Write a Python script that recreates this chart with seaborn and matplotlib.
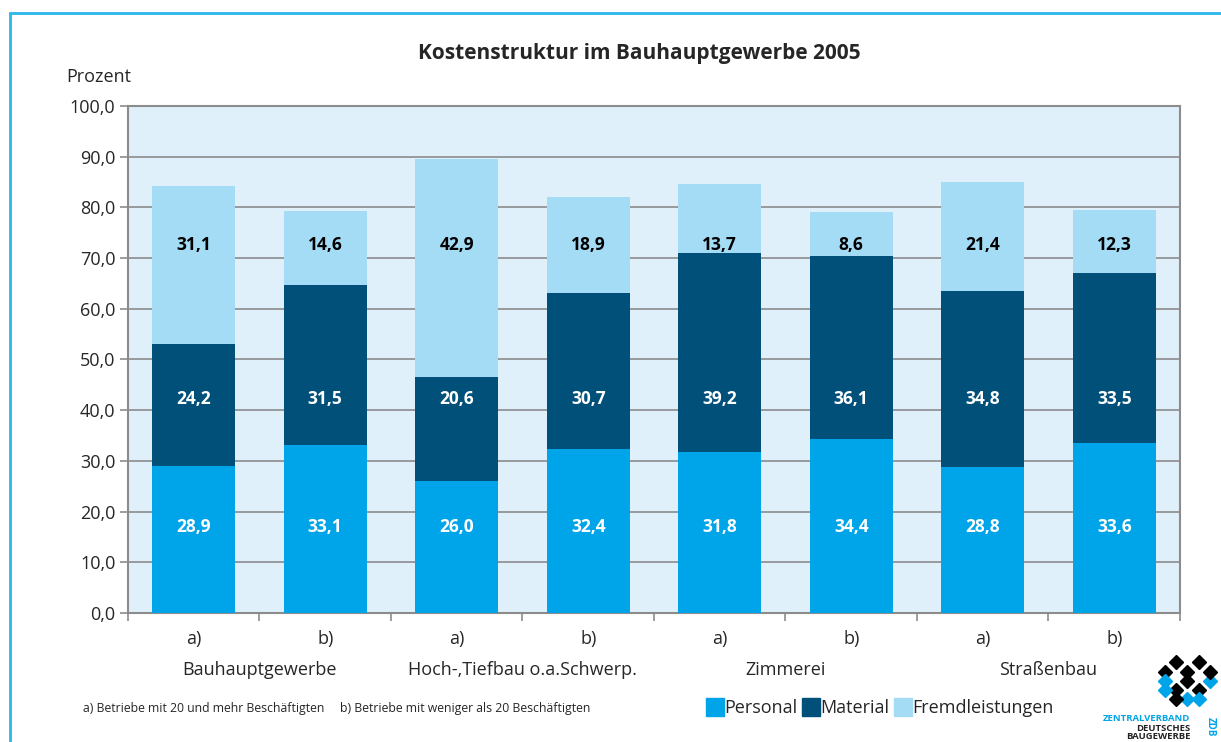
import numpy as np
import pandas as pd
import seaborn as sns
import matplotlib.pyplot as plt
from matplotlib.patches import Rectangle
from matplotlib.lines import Line2D

sns.set_theme(style="white")
plt.rcParams["font.family"] = ["Open Sans", "DejaVu Sans"]

# data
groups = ["Bauhauptgewerbe", "Hoch-,Tiefbau o.a.Schwerp.", "Zimmerei", "Straßenbau"]
sizes = ["a)", "b)"]
personal = [28.9, 33.1, 26.0, 32.4, 31.8, 34.4, 28.8, 33.6]
material = [24.2, 31.5, 20.6, 30.7, 39.2, 36.1, 34.8, 33.5]
fremd = [31.1, 14.6, 42.9, 18.9, 13.7, 8.6, 21.4, 12.3]
series_names = ["Personal", "Material", "Fremdleistungen"]
colors = ["#00A4E8", "#00507A", "#A4DBF5"]
label_colors = ["white", "white", "black"]
# the source puts every label of a series at one common height
label_levels = [17.0, 42.2, 72.5]

slots = [f"{s} {g}" for g in groups for s in sizes]
df = pd.DataFrame({"slot": slots, "Personal": personal,
                   "Material": material, "Fremdleistungen": fremd})
df["top_material"] = df["Personal"] + df["Material"]
df["top_fremd"] = df["top_material"] + df["Fremdleistungen"]

fig = plt.figure(figsize=(12.21, 7.42), dpi=100)
ax = fig.add_axes([0.1048, 0.1739, 0.8616, 0.6833])
ax.set_facecolor("#DFF0FA")

# stacked bars drawn as overlaid cumulative totals
for col, c in [("top_fremd", colors[2]), ("top_material", colors[1]), ("Personal", colors[0])]:
    sns.barplot(data=df, x="slot", y=col, order=slots, color=c, width=0.63,
                saturation=1, linewidth=0, edgecolor="none", ax=ax, zorder=3)

# value labels
for i, row in df.iterrows():
    for name, lvl, tc in zip(series_names, label_levels, label_colors):
        ax.text(i, lvl, f"{row[name]:.1f}".replace(".", ","), ha="center", va="center",
                color=tc, fontsize=12.5, fontweight="bold", zorder=5)

ax.set_xlim(-0.5, len(slots) - 0.5)
ax.set_ylim(0, 100)
yt = np.arange(0, 101, 10)
ax.set_yticks(yt)
ax.set_yticklabels([f"{v:.1f}".replace(".", ",") for v in yt], fontsize=13)
ax.yaxis.grid(True, color="#8C8C8C", linewidth=1.2, zorder=0)
ax.set_axisbelow(True)
ax.tick_params(axis="y", left=True, length=6, width=1.2, color="#8C8C8C", pad=3)
ax.set_xlabel("")
ax.set_ylabel("")

ax.set_xticks(np.arange(-0.5, len(slots), 1), minor=True)
ax.set_xticks(range(len(slots)))
ax.set_xticklabels([s for g in groups for s in sizes], fontsize=13)
ax.tick_params(axis="x", which="major", length=0, pad=12)
ax.tick_params(axis="x", which="minor", bottom=True, length=6, width=1.2, color="#8C8C8C")
for sp in ax.spines.values():
    sp.set_color("#8C8C8C")
    sp.set_linewidth(1.5)

for k, g in enumerate(groups):
    ax.text(2 * k + 0.5, -0.113, g, transform=ax.get_xaxis_transform(),
            ha="center", va="center", fontsize=13)

fig.text(0.524, 0.928, "Kostenstruktur im Bauhauptgewerbe 2005", ha="center", va="center",
         fontsize=15, fontweight="bold")
fig.text(0.054, 0.896, "Prozent", ha="left", va="center", fontsize=13)
fig.text(0.068, 0.045, "a) Betriebe mit 20 und mehr Beschäftigten     b) Betriebe mit weniger als 20 Beschäftigten",
         ha="left", va="center", fontsize=8.8)

handles = [Line2D([], [], marker="s", linestyle="none", markersize=13, color=c) for c in colors]
fig.legend(handles, series_names, loc="center left", bbox_to_anchor=(0.566, 0.046), ncol=3,
           frameon=False, fontsize=13, handletextpad=0.05, columnspacing=0.3, handlelength=0.9)

# frame around the figure
fig.patches.append(Rectangle((10 / 1221, -0.05), 1.1, 0.05 + 1 - 13 / 742, transform=fig.transFigure,
                             fill=False, edgecolor="#2BB7EB", linewidth=2))

# logo
lax = fig.add_axes([0.945, 0.045, 0.055, 0.075])
lax.set_xlim(0, 6)
lax.set_ylim(0, 6)
lax.axis("off")
cube_pts = [(1, 4, "black"), (3, 4, "black"), (2, 5, "black"), (4, 5, "black"),
            (3, 3, "black"), (5, 3, "#00A4E8"), (1, 3, "#00A4E8"), (2, 2, "black"),
            (4, 2, "black"), (3, 1, "#00A4E8"), (1, 2, "#00A4E8"), (4, 1, "#00A4E8"),
            (2, 1, "black"), (5, 4, "black")]
for x, y, c in cube_pts:
    lax.plot(x, y, marker="D", markersize=7, color=c, linestyle="none")
fig.text(0.975, 0.032, "ZENTRALVERBAND", ha="right", va="center", fontsize=6.8, fontweight="bold", color="#00A4E8")
fig.text(0.975, 0.018, "DEUTSCHES", ha="right", va="center", fontsize=6.8, fontweight="bold", color="#222222")
fig.text(0.975, 0.002, "BAUGEWERBE", ha="right", va="bottom", fontsize=6.8, fontweight="bold", color="#222222")
fig.text(0.991, 0.02, "ZDB", ha="center", va="center", fontsize=7, fontweight="bold",
         color="#00A4E8", rotation=-90)

fig.savefig("out.png", dpi=100)
